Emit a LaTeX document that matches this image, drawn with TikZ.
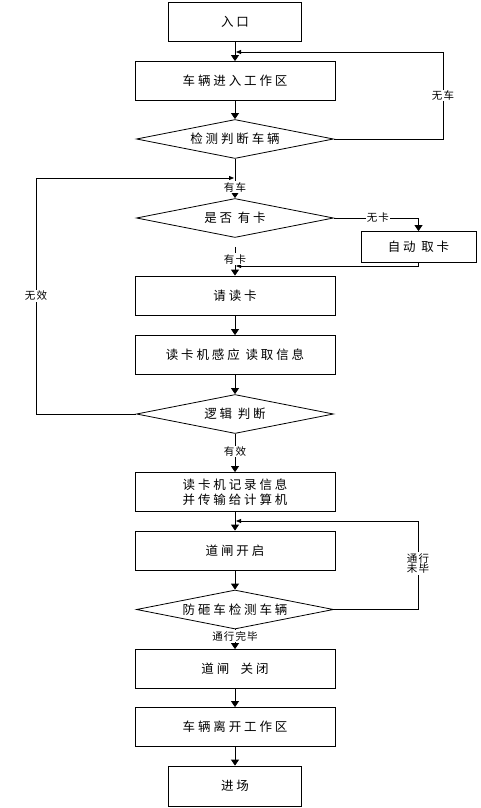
\documentclass[tikz,border=0pt]{standalone}
\usepackage{fontspec}
\newfontfamily\cjk[LetterSpace=23]{Noto Sans CJK SC}
\newfontfamily\cjklab[LetterSpace=10]{Noto Sans CJK SC}
\usetikzlibrary{arrows.meta,shapes.geometric}

\begin{document}
\begin{tikzpicture}[
    x = 1pt,
    y = -1pt,
    line width = 0.8pt,
    >={Triangle[width=8pt,length=6pt]},
    box/.style = {
      draw,
      rectangle,
      inner sep = 0pt,
      minimum width = 200pt,
      minimum height = 39pt,
      align = center,
      font = \cjk\fontsize{12.5}{14.5}\selectfont
    },
    decision/.style = {
      draw,
      diamond,
      shape aspect = 5,
      inner sep = 0pt,
      minimum width = 197pt,
      minimum height = 39pt,
      font = \cjk\fontsize{12.5}{14.5}\selectfont
    },
    lab/.style = {
      fill = white,
      inner sep = 1pt,
      align = center,
      font = \cjklab\fontsize{10.5}{10.5}\selectfont
    },
    feedback/.style = {
      -{Triangle[width=4pt,length=5pt]},
      shorten > = 1pt
    }
  ]
  \useasboundingbox (0,0) rectangle (480,808);

  % steps
  \node[box,minimum width=133pt] (enter) at (235,21.5) {入口};
  \node[box] (zone)   at (235,81)    {车辆进入工作区};
  \node[decision] (d1) at (235,139)  {检测判断车辆};
  \node[decision] (d2) at (235,218)  {是否 有卡};
  \node[box,minimum width=115pt,minimum height=31pt] (auto) at (418.5,247) {自动 取卡};
  \node[box] (read)   at (235,295.5) {请读卡};
  \node[box] (sense)  at (235,355)   {读卡机感应 读取信息};
  \node[decision] (d3) at (235,414)  {逻辑 判断};
  \node[box] (record) at (235,492)   {读卡机记录信息\\并传输给计算机};
  \node[box] (open)   at (235,550.5) {道闸开启};
  \node[decision] (d4) at (235,609.5) {防砸车检测车辆};
  \node[box] (close)  at (235,669)   {道闸~~关闭};
  \node[box] (leave)  at (235,727)   {车辆离开工作区};
  \node[box,minimum width=133pt,minimum height=40pt] (park) at (235,786) {进场};

  % junctions
  \coordinate (j1) at (235,52);
  \coordinate (c1) at (443,52);
  \coordinate (j2) at (235,178);
  \coordinate (c2) at (36,178);
  \coordinate (j3) at (235,266);
  \coordinate (j4) at (235,521);
  \coordinate (c4) at (418,521);

  \draw[->] (enter) -- (zone);
  \draw[->] (zone) -- (d1);
  \draw[feedback] (d1.east) -| node[lab,pos=0.75] {无车} (c1) -- (j1);
  \draw[->] (d1) -- node[lab,pos=0.72] {有车} (d2);
  \draw[feedback] (d3.west) -| node[lab,pos=0.75] {无效} (c2) -- (j2);
  \draw[->] (d2.east) -| node[lab,pos=0.26] {无卡} (auto.north);
  \draw[feedback] (auto.south) |- (j3);
  \draw[->,shorten <=9pt] (d2) -- node[lab,pos=0.56] {有卡} (read);
  \draw[->] (read) -- (sense);
  \draw[->] (sense) -- (d3);
  \draw[->] (d3) -- node[lab,pos=0.46] {有效} (record);
  \draw[->] (record) -- (open);
  \draw[->] (open) -- (d4);
  \draw[feedback] (d4.east) -| node[lab,pos=0.76] {通行\\未毕} (c4) -- (j4);
  \draw[->] (d4) -- node[lab,pos=0.35] {通行完毕} (close);
  \draw[->] (close) -- (leave);
  \draw[->] (leave) -- (park);
\end{tikzpicture}
\end{document}
